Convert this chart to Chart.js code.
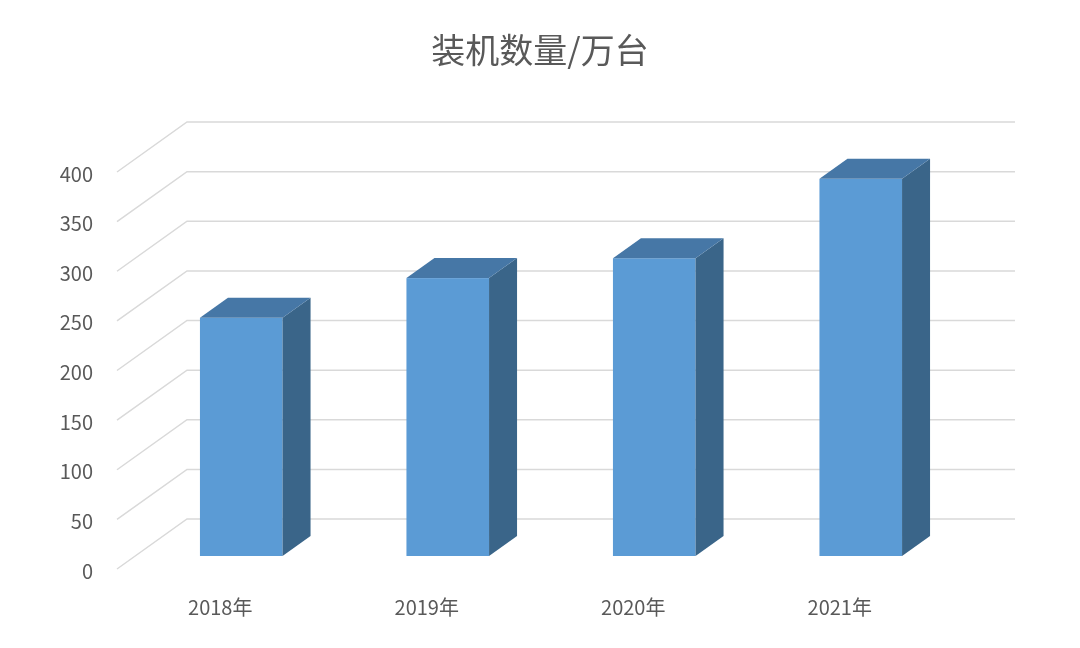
<!DOCTYPE html>
<html><head><meta charset="utf-8">
<script src="https://cdn.jsdelivr.net/npm/chart.js@4/dist/chart.umd.min.js"></script>
<style>html,body{margin:0;background:#fff}#w{width:1080px;height:648px}</style>
</head><body><div id="w"><canvas id="c"></canvas></div>
<script>
const title = '装机数量/万台';
const categories = ['2018年','2019年','2020年','2021年'];
const values = [240, 280, 300, 380];
const yTicks = [0,50,100,150,200,250,300,350,400];

const FONT = '"Noto Sans CJK SC", "Noto Sans", sans-serif';
const plugin3d = {
  id:'p3d',
  beforeDatasetsDraw(chart){
    const ctx=chart.ctx, y=chart.scales.y, x=chart.scales.x;
    const L=chart.chartArea.left, R=1015;
    ctx.save();
    ctx.strokeStyle='#D9D9D9'; ctx.lineWidth=1.5;
    yTicks.forEach(t=>{
      const py=y.getPixelForValue(t);
      ctx.beginPath(); ctx.moveTo(L,py); ctx.lineTo(L+70,py-50); ctx.lineTo(R,py-50); ctx.stroke();
    });
    ctx.fillStyle='#595959'; ctx.font='20px '+FONT; ctx.textAlign='right'; ctx.textBaseline='middle';
    yTicks.forEach(t=>ctx.fillText(String(t),93,y.getPixelForValue(t)+2));
    ctx.textAlign='center';
    categories.forEach((c,i)=>ctx.fillText(c,x.getPixelForValue(i),607));
    ctx.font='34px '+FONT; ctx.fillText(title,540,50);
    // bars
    const meta=chart.getDatasetMeta(0);
    meta.data.forEach((b,i)=>{
      const w=b.width, x0=b.x-w/2+21, x1=x0+w;
      const top=y.getPixelForValue(values[i])-13, bot=y.getPixelForValue(0)-13;
      const dx=28, dy=-20;
      ctx.fillStyle='#5B9BD5'; ctx.fillRect(x0,top,w,bot-top);
      ctx.fillStyle='#3A6589';
      ctx.beginPath(); ctx.moveTo(x1,top); ctx.lineTo(x1+dx,top+dy); ctx.lineTo(x1+dx,bot+dy); ctx.lineTo(x1,bot); ctx.closePath(); ctx.fill();
      ctx.fillStyle='#4677A6';
      ctx.beginPath(); ctx.moveTo(x0,top); ctx.lineTo(x0+dx,top+dy); ctx.lineTo(x1+dx,top+dy); ctx.lineTo(x1,top); ctx.closePath(); ctx.fill();
    });
    ctx.restore();
  }
};
new Chart(document.getElementById('c'),{
  type:'bar',
  data:{labels:categories,datasets:[{data:values,backgroundColor:'rgba(0,0,0,0)',barPercentage:0.4,categoryPercentage:1}]},
  options:{responsive:true,maintainAspectRatio:false,animation:false,
    layout:{padding:{left:117,right:137,top:172,bottom:79}},
    plugins:{legend:{display:false},tooltip:{enabled:false}},
    scales:{x:{display:false},y:{display:false,min:0,max:400}}},
  plugins:[plugin3d]
});
</script></body></html>
